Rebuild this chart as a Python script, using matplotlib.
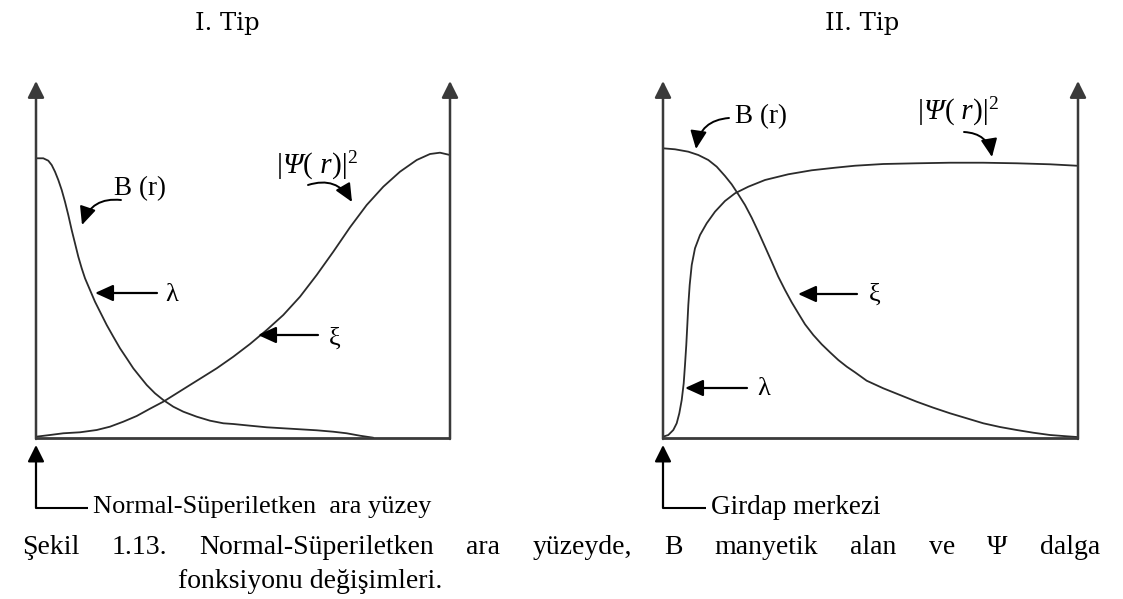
import matplotlib
matplotlib.use("Agg")
import matplotlib.pyplot as plt

# ---------------------------------------------------------------
# Curve samples: r is the position across a panel (0 = left axis,
# 1 = right axis); values are fractions of the axis height.
# ---------------------------------------------------------------
# Type I: normal / superconductor interface
type1_r_B = [0.0000, 0.0176, 0.0297, 0.0379, 0.0459, 0.0539, 0.0621, 0.0700,
             0.0780, 0.0862, 0.0942, 0.1022, 0.1104, 0.1184, 0.1304, 0.1425,
             0.1546, 0.1708, 0.1867, 0.2029, 0.2191, 0.2350, 0.2512, 0.2674,
             0.2874, 0.3075, 0.3316, 0.3558, 0.3882, 0.4203, 0.4524, 0.4766,
             0.5169, 0.5572, 0.5973, 0.6377, 0.6780, 0.7181, 0.7505, 0.7826,
             0.8147]
type1_B = [0.7835, 0.7835, 0.7768, 0.7647, 0.7459, 0.7227, 0.6947, 0.6619,
           0.6246, 0.5826, 0.5454, 0.5078, 0.4754, 0.4473, 0.4146, 0.3818,
           0.3538, 0.3165, 0.2838, 0.2513, 0.2232, 0.1952, 0.1717, 0.1485,
           0.1252, 0.1064, 0.0877, 0.0737, 0.0597, 0.0485, 0.0412, 0.0392,
           0.0345, 0.0300, 0.0272, 0.0244, 0.0216, 0.0176, 0.0132, 0.0064,
           0.0008]
type1_r_psi = [0.0000, 0.0338, 0.0659, 0.1063, 0.1466, 0.1787, 0.2109, 0.2432,
               0.2754, 0.3075, 0.3399, 0.3720, 0.4041, 0.4365, 0.4766, 0.5169,
               0.5572, 0.5973, 0.6377, 0.6780, 0.7181, 0.7585, 0.7988, 0.8389,
               0.8792, 0.9196, 0.9517, 0.9758, 1.0000]
type1_psi = [0.0036, 0.0084, 0.0132, 0.0160, 0.0224, 0.0317, 0.0457, 0.0616,
             0.0821, 0.1017, 0.1252, 0.1485, 0.1717, 0.1952, 0.2277, 0.2633,
             0.3025, 0.3445, 0.3958, 0.4566, 0.5218, 0.5902, 0.6527, 0.7039,
             0.7459, 0.7787, 0.7955, 0.7992, 0.7927]

# Type II: vortex centre
type2_r_B = [0.0000, 0.0289, 0.0610, 0.0851, 0.1092, 0.1294, 0.1494, 0.1655,
             0.1814, 0.1976, 0.2137, 0.2296, 0.2458, 0.2619, 0.2778, 0.2940,
             0.3101, 0.3260, 0.3422, 0.3622, 0.3824, 0.4024, 0.4224, 0.4429,
             0.4627, 0.4908, 0.5308, 0.5711, 0.6113, 0.6513, 0.6916, 0.7318,
             0.7718, 0.8120, 0.8523, 0.8923, 0.9325, 0.9728, 0.9969]
type2_B = [0.8115, 0.8087, 0.8020, 0.7927, 0.7787, 0.7600, 0.7339, 0.7106,
           0.6826, 0.6527, 0.6171, 0.5779, 0.5359, 0.4939, 0.4518, 0.4146,
           0.3801, 0.3493, 0.3185, 0.2885, 0.2625, 0.2401, 0.2185, 0.1997,
           0.1840, 0.1605, 0.1392, 0.1204, 0.1017, 0.0849, 0.0692, 0.0552,
           0.0412, 0.0308, 0.0224, 0.0148, 0.0084, 0.0048, 0.0028]
type2_r_psi = [0.0000, 0.0128, 0.0248, 0.0330, 0.0393, 0.0451, 0.0499, 0.0530,
               0.0561, 0.0586, 0.0610, 0.0643, 0.0692, 0.0771, 0.0892, 0.1053,
               0.1253, 0.1494, 0.1735, 0.2055, 0.2458, 0.3019, 0.3583, 0.4145,
               0.4627, 0.5308, 0.6113, 0.6916, 0.7718, 0.8523, 0.9325, 0.9969]
type2_psi = [0.0036, 0.0084, 0.0224, 0.0412, 0.0692, 0.1064, 0.1532, 0.2045,
             0.2605, 0.3165, 0.3725, 0.4286, 0.4846, 0.5314, 0.5686, 0.6014,
             0.6339, 0.6639, 0.6854, 0.7039, 0.7227, 0.7387, 0.7499, 0.7571,
             0.7627, 0.7675, 0.7695, 0.7711, 0.7711, 0.7695, 0.7667, 0.7627]

panel_titles = ["I. Tip", "II. Tip"]
origin_labels = ["Normal-Süperiletken  ara yüzey", "Girdap merkezi"]
caption_words = ["Şekil", "1.13.", "Normal-Süperiletken", "ara", "yüzeyde,",
                 "B", "manyetik", "alan", "ve", "Ψ", "dalga"]
caption_line2 = "fonksiyonu değişimleri."

# ---------------------------------------------------------------
plt.rcParams["font.family"] = ["Liberation Serif", "DejaVu Serif"]

W, H = 1123, 599
fig = plt.figure(figsize=(W / 100, H / 100), dpi=100)
fig.patch.set_facecolor("white")

BOTTOM, TOP = 438, 81
panels = [dict(x0=36, x1=450), dict(x0=663, x1=1078)]

curve_kw = dict(color="#2b2b2b", lw=1.3, clip_on=False,
                solid_capstyle="round", solid_joinstyle="round")
series = [
    (type1_r_B, type1_B, type1_r_psi, type1_psi),
    (type2_r_B, type2_B, type2_r_psi, type2_psi),
]
for p, (rb, b, rp, ps) in zip(panels, series):
    ax = fig.add_axes([p["x0"] / W, (H - BOTTOM) / H,
                       (p["x1"] - p["x0"]) / W, (BOTTOM - TOP) / H])
    ax.set_xlim(0, 1)
    ax.set_ylim(0, 1)
    ax.axis("off")
    ax.plot(rb, b, **curve_kw)
    ax.plot(rp, ps, **curve_kw)

# Overlay in pixel units for frames, pointers and text
ov = fig.add_axes([0, 0, 1, 1])
ov.set_xlim(0, W)
ov.set_ylim(H, 0)
ov.axis("off")


def arrow(x0, y0, x1, y1, rad=0.0, hl=1.0, hw=0.45, lw=1.5, color="black"):
    ov.annotate("", xy=(x1, y1), xytext=(x0, y0),
                arrowprops=dict(arrowstyle=f"-|>,head_length={hl},head_width={hw}",
                                connectionstyle=f"arc3,rad={rad}",
                                lw=lw, color=color, shrinkA=0, shrinkB=0))


axis_col = "#3a3a3a"
for p in panels:
    ov.plot([p["x0"], p["x1"]], [BOTTOM, BOTTOM], color=axis_col, lw=2.0,
            solid_capstyle="butt")
    arrow(p["x0"], BOTTOM + 1, p["x0"], TOP, hl=1.0, hw=0.5, lw=1.8, color=axis_col)
    arrow(p["x1"], BOTTOM + 1, p["x1"], TOP, hl=1.0, hw=0.5, lw=1.8, color=axis_col)

# Titles
ov.text(227, 30, panel_titles[0], fontsize=17.5, family="DejaVu Serif",
        ha="center", va="baseline")
ov.text(862, 30, panel_titles[1], fontsize=17.5, family="DejaVu Serif",
        ha="center", va="baseline")

fig.canvas.draw()
renderer = fig.canvas.get_renderer()

# |Ψ( r)|² label built from runs: (text, size, style, raise in px)
psi_runs = [("|", 21, "normal", 0), ("Ψ", 21, "italic", 0), ("(", 21, "normal", 0),
            (" r", 21, "italic", 0), (")|", 21, "normal", 0),
            ("2", 14, "normal", 10)]


def runs_label(xc, y_base, runs):
    texts = [ov.text(0, y_base - dy, s, fontsize=fs, style=st,
                     ha="left", va="baseline")
             for s, fs, st, dy in runs]
    widths = [t.get_window_extent(renderer).width for t in texts]
    x = xc - sum(widths) / 2
    for t, w in zip(texts, widths):
        t.set_x(x)
        x += w


# ---- Type I annotations
ov.text(140, 189, "B (r)", fontsize=19.5, ha="center", va="center")
arrow(121, 200, 82, 225, rad=0.4, hl=1.1, hw=0.5, lw=1.4)
runs_label(317, 173, psi_runs)
arrow(308, 185, 352, 202, rad=-0.4, hl=1.1, hw=0.5, lw=1.4)
arrow(157, 293, 95, 293, hl=1.1, hw=0.5, lw=1.6)
ov.text(172, 295, "λ", fontsize=19, ha="center", va="center")
arrow(318, 335, 258, 335, hl=1.1, hw=0.5, lw=1.6)
ov.text(335, 339, "ξ", fontsize=19, ha="center", va="center")

# ---- Type II annotations
ov.text(761, 117, "B (r)", fontsize=19.5, ha="center", va="center")
arrow(729, 118, 696, 149, rad=0.4, hl=1.1, hw=0.5, lw=1.4)
runs_label(958, 119, psi_runs)
arrow(964, 132, 992, 157, rad=-0.4, hl=1.1, hw=0.5, lw=1.4)
arrow(857, 294, 798, 294, hl=1.1, hw=0.5, lw=1.6)
ov.text(875, 295, "ξ", fontsize=19, ha="center", va="center")
arrow(747, 388, 685, 388, hl=1.1, hw=0.5, lw=1.6)
ov.text(764, 389, "λ", fontsize=19, ha="center", va="center")

# ---- origin markers below the panels
for p, lab, xend, fs in zip(panels, origin_labels, [88, 706], [19, 19.5]):
    x = p["x0"]
    arrow(x, 508, x, 445, hl=1.0, hw=0.5, lw=1.6)
    ov.plot([x, xend], [508, 508], color="black", lw=1.5, solid_capstyle="butt")
    ov.text(xend + 5, 507, lab, fontsize=fs, ha="left", va="center")

# ---- caption, first line justified between the margins
cap_size = 20
words = [ov.text(0, 554, w, fontsize=cap_size, ha="left", va="baseline")
         for w in caption_words]
widths = [t.get_window_extent(renderer).width for t in words]
left, right = 22, 1100
gap = (right - left - sum(widths)) / (len(words) - 1)
x = left
for t, w in zip(words, widths):
    t.set_x(x)
    x += w + gap
ov.text(178, 588, caption_line2, fontsize=cap_size, ha="left", va="baseline")

fig.savefig("out.png", dpi=100, facecolor="white")
